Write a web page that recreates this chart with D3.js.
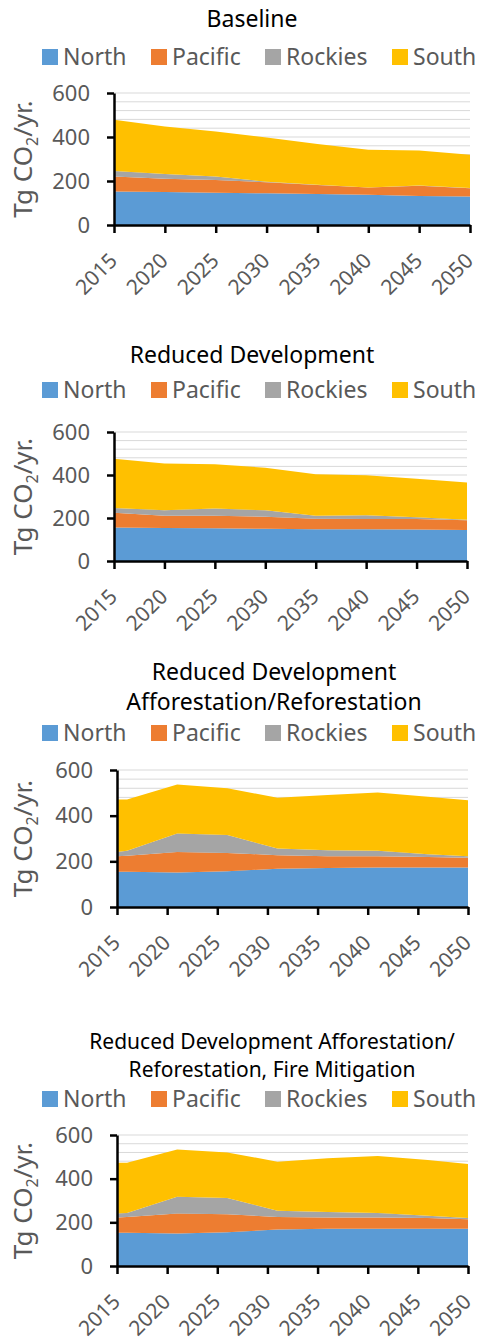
<!DOCTYPE html>
<html>
<head>
<meta charset="utf-8">
<script src="https://cdn.jsdelivr.net/npm/d3@7"></script>
<style>
  body { margin: 0; background: #fff; }
  svg { display: block; font-family: "Noto Sans", "Open Sans", sans-serif; }
</style>
</head>
<body>
<svg id="chart" width="479" height="1342"></svg>
<script>
var regions = ["North", "Pacific", "Rockies", "South"];
var colors = ["#5b9bd5", "#ed7d31", "#a5a5a5", "#ffc000"];
var tickYears = [2015, 2020, 2025, 2030, 2035, 2040, 2045, 2050];
var yTicks = [0, 200, 400, 600];

// baseline and reduced development: 5-year points
var years5 = [2015, 2020, 2025, 2030, 2035, 2040, 2045, 2050];
var baseNorth   = [152, 150, 147, 144, 141, 137, 132, 129];
var basePacific = [68, 60, 58, 50, 41, 33, 46, 38];
var baseRockies = [26, 22, 15, 3, 1, 1, 1, 1];
var baseSouth   = [232, 216, 205, 201, 185, 171, 160, 151];

var rdNorth   = [156, 153, 152, 150, 148, 148, 147, 144];
var rdPacific = [68, 57, 58, 56, 48, 47, 48, 46];
var rdRockies = [23, 26, 34, 30, 14, 18, 8, 2];
var rdSouth   = [229, 217, 206, 198, 193, 186, 180, 173];

// afforestation scenarios
var yearsAR = [2015, 2016, 2021, 2026, 2031, 2036, 2041, 2046, 2050];
var arNorth   = [154, 154, 151, 157, 167, 171, 173, 173, 173];
var arPacific = [68, 71, 90, 80, 60, 51, 49, 46, 43];
var arRockies = [19, 21, 81, 78, 29, 27, 24, 12, 6];
var arSouth   = [230, 225, 215, 205, 222, 241, 256, 252, 246];

var fmNorth   = [152, 152, 149, 155, 167, 171, 171, 171, 171];
var fmPacific = [70, 72, 91, 82, 58, 51, 51, 49, 43];
var fmRockies = [18, 19, 77, 75, 28, 25, 21, 10, 6];
var fmSouth   = [233, 230, 217, 208, 225, 246, 261, 255, 247];

function rows(years, n, p, r, s) {
  return years.map(function(y, i) {
    return {year: y, North: n[i], Pacific: p[i], Rockies: r[i], South: s[i]};
  });
}

var panels = [
  {title: ["Baseline"], tSize: 23, tx: 252, ty: [19], ly: 57,
   x0: 114, x1: 470, yTop: 93, yBot: 225,
   data: rows(years5, baseNorth, basePacific, baseRockies, baseSouth)},
  {title: ["Reduced Development"], tSize: 23, tx: 252, ty: [355], ly: 390,
   x0: 114, x1: 467, yTop: 432, yBot: 561,
   data: rows(years5, rdNorth, rdPacific, rdRockies, rdSouth)},
  {title: ["Reduced Development", "Afforestation/Reforestation"], tSize: 23, tx: 274, ty: [672, 702], ly: 733,
   x0: 117, x1: 468, yTop: 770, yBot: 907,
   data: rows(yearsAR, arNorth, arPacific, arRockies, arSouth)},
  {title: ["Reduced Development Afforestation/", "Reforestation, Fire Mitigation"], tSize: 21, tx: 272, ty: [1042, 1070], ly: 1099,
   x0: 117, x1: 468, yTop: 1135, yBot: 1266,
   data: rows(yearsAR, fmNorth, fmPacific, fmRockies, fmSouth)}
];

var legendX = [42, 151, 265, 392];

var svg = d3.select("#chart");
var stack = d3.stack().keys(regions);

panels.forEach(function(p) {
  var g = svg.append("g");

  p.title.forEach(function(t, i) {
    g.append("text")
      .attr("x", p.tx).attr("y", p.ty[i])
      .attr("dy", "0.35em")
      .attr("text-anchor", "middle")
      .attr("font-size", p.tSize)
      .attr("fill", "#000")
      .text(t);
  });

  regions.forEach(function(r, i) {
    g.append("rect")
      .attr("x", legendX[i]).attr("y", p.ly - 8)
      .attr("width", 16).attr("height", 16)
      .attr("fill", colors[i]);
    g.append("text")
      .attr("x", legendX[i] + 21).attr("y", p.ly)
      .attr("dy", "0.35em")
      .attr("font-size", 23)
      .attr("fill", "#595959")
      .text(r);
  });

  var x = d3.scaleLinear().domain([2015, 2050]).range([p.x0, p.x1]);
  var y = d3.scaleLinear().domain([0, 600]).range([p.yBot, p.yTop]);

  // light gridlines
  g.append("g").selectAll("line")
    .data(d3.range(40, 601, 40))
    .join("line")
      .attr("x1", p.x0).attr("x2", p.x1)
      .attr("y1", function(d) { return y(d); })
      .attr("y2", function(d) { return y(d); })
      .attr("stroke", "#d9d9d9")
      .attr("stroke-width", 1);

  var area = d3.area()
    .x(function(d) { return x(d.data.year); })
    .y0(function(d) { return y(d[0]); })
    .y1(function(d) { return y(d[1]); });

  g.append("g").selectAll("path")
    .data(stack(p.data))
    .join("path")
      .attr("fill", function(d, i) { return colors[i]; })
      .attr("d", area);

  var xAxis = g.append("g")
    .attr("transform", "translate(0," + p.yBot + ")")
    .call(d3.axisBottom(x).tickValues(tickYears).tickFormat(d3.format("d"))
      .tickSize(8).tickSizeOuter(0));
  xAxis.select(".domain").attr("stroke", "#000").attr("stroke-width", 2.5);
  xAxis.selectAll(".tick line").attr("stroke", "#000").attr("stroke-width", 2.5);
  xAxis.selectAll(".tick text")
    .attr("font-size", 21)
    .attr("font-family", "Noto Sans, sans-serif")
    .attr("fill", "#595959")
    .attr("text-anchor", "end")
    .attr("x", 0).attr("y", 0).attr("dy", 0)
    .attr("transform", "translate(4,37) rotate(-45)");

  var yAxis = g.append("g")
    .attr("transform", "translate(" + p.x0 + ",0)")
    .call(d3.axisLeft(y).tickValues(yTicks).tickSize(7).tickSizeOuter(0).tickPadding(17));
  yAxis.select(".domain").attr("stroke", "#000").attr("stroke-width", 2.5);
  yAxis.selectAll(".tick line").attr("stroke", "#000").attr("stroke-width", 2.5);
  yAxis.selectAll(".tick text")
    .attr("font-size", 22)
    .attr("font-family", "Noto Sans, sans-serif")
    .attr("fill", "#595959");

  var label = g.append("text")
    .attr("transform", "translate(23," + ((p.yTop + p.yBot) / 2) + ") rotate(-90)")
    .attr("text-anchor", "middle")
    .attr("dy", "0.35em")
    .attr("font-size", 26)
    .attr("fill", "#595959");
  label.append("tspan").text("Tg CO");
  label.append("tspan").attr("font-size", 16).attr("dy", 6).text("2");
  label.append("tspan").attr("dy", -6).text("/yr.");
});
</script>
</body>
</html>
